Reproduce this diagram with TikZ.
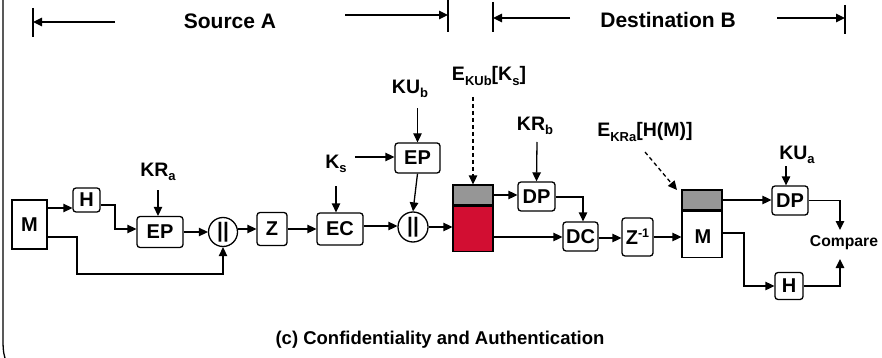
\documentclass[tikz,border=0pt]{standalone}
\usepackage{fontspec}
\setmainfont{Liberation Sans}
\usetikzlibrary{arrows.meta}
\definecolor{msgred}{RGB}{210,14,50}
\definecolor{hdrgray}{RGB}{150,150,150}
\newcommand{\lowsub}[1]{\raisebox{-4.5pt}{\fontsize{13}{13}\selectfont #1}}
\newcommand{\highsup}[1]{\raisebox{7pt}{\fontsize{12.5}{12.5}\selectfont #1}}
\tikzset{
  conn/.style={line width=1.3pt, -{Triangle[length=9pt,width=8.5pt]}},
  dconn/.style={conn, dashed, dash pattern=on 4pt off 3pt},
  plain/.style={line width=1.3pt},
  blk/.style={draw, rounded corners=3pt, line width=1.3pt, inner sep=0pt,
    font=\fontsize{20}{20}\selectfont\bfseries},
  sqr/.style={draw, line width=1.3pt, inner sep=0pt,
    font=\fontsize{20}{20}\selectfont\bfseries},
  cat/.style={draw, circle, line width=1.3pt, minimum size=29pt, inner sep=0pt,
    font=\fontsize{21}{21}\selectfont\bfseries},
  lbl/.style={inner sep=0pt, font=\fontsize{19.5}{19.5}\selectfont\bfseries},
  hdr/.style={inner sep=0pt, font=\fontsize{21}{21}\selectfont\bfseries},
}
\begin{document}
\begin{tikzpicture}[x=1pt,y=-1pt]
\useasboundingbox (0,0) rectangle (882,358);
\clip (0,0) rectangle (882,358);

% frame edge on the left
\draw[plain] (3,-3) -- (3,340) .. controls (3,352) and (4,356) .. (7,364);

% ---- header: Source A / Destination B ----
\node[hdr] (srcA) at (230,21) {Source A};
\node[hdr] (dstB) at (668,20) {Destination B};
\coordinate (saL) at (33,22);   \coordinate (saLs) at (115,22);
\coordinate (saR) at (448,15);  \coordinate (saRs) at (345,15);
\coordinate (dbL) at (493,18);  \coordinate (dbLs) at (570,18);
\coordinate (dbR) at (845,18);  \coordinate (dbRs) at (777,18);
\draw[plain] (33,8) -- (33,37);
\draw[plain] (448,0) -- (448,32);
\draw[plain] (493,2) -- (493,32);
\draw[plain] (845,5) -- (845,34);
\draw[conn] (saLs) -- (saL);
\draw[conn] (saRs) -- (saR);
\draw[conn] (dbLs) -- (dbL);
\draw[conn] (dbRs) -- (dbR);

% ---- source side ----
\node[sqr, minimum width=35pt, minimum height=49pt] (m1) at (29.5,224.5) {M};
\node[blk, minimum width=27pt, minimum height=24pt] (h1) at (86.5,200) {H};
\node[blk, minimum width=46pt, minimum height=31pt] (ep1) at (160,232) {EP};
\node[lbl] (kra) at (158,172) {KR\lowsub{a}};
\node[cat] (cat1) at (223,232) {||};
\node[blk, minimum width=30pt, minimum height=33pt] (z) at (272,229) {Z};
\node[blk, minimum width=46pt, minimum height=32pt] (ec) at (340,229) {EC};
\node[lbl] (ks) at (336,164) {K\lowsub{s}};
\node[blk, minimum width=45pt, minimum height=30pt] (ep2) at (417.5,158) {EP};
\node[lbl] (kub) at (410,89) {KU\lowsub{b}};
\node[cat, minimum size=30pt] (cat2) at (413,227) {||};

% encrypted message: session key header over ciphertext
\node[draw, line width=1.3pt, fill=hdrgray, minimum width=40pt, minimum height=20pt,
  inner sep=0pt] (ekey) at (473,195) {};
\node[draw, line width=1.3pt, fill=msgred, minimum width=40pt, minimum height=45pt,
  inner sep=0pt, anchor=north] (ctext) at (ekey.south) {};
\node[lbl] (ekub) at (489,76) {E\lowsub{KUb}[K\lowsub{s}]};

% ---- destination side ----
\node[blk, minimum width=37pt, minimum height=29pt] (dp1) at (536.5,196.5) {DP};
\node[lbl] (krb) at (535,126) {KR\lowsub{b}};
\node[blk, minimum width=35pt, minimum height=29pt] (dc) at (580.5,236.5) {DC};
\node[blk, minimum width=31pt, minimum height=38pt] (zi) at (637.5,237) {Z\highsup{-1}};
\node[draw, line width=1.3pt, fill=hdrgray, minimum width=40pt, minimum height=20pt,
  inner sep=0pt] (sig) at (702,200) {};
\node[sqr, minimum width=40pt, minimum height=46pt, anchor=north] (m2) at (sig.south) {};
\node[inner sep=0pt, font=\fontsize{20}{20}\selectfont\bfseries] (m2t) at (703,237) {M};
\node[lbl] (ekra) at (645,132) {E\lowsub{KRa}[H(M)]};
\node[blk, minimum width=36pt, minimum height=29pt] (dp2) at (790,200.5) {DP};
\node[lbl] (kua) at (797,155) {KU\lowsub{a}};
\node[blk, minimum width=28pt, minimum height=27pt] (h2) at (789,286) {H};
\node[inner sep=0pt, font=\fontsize{15.7}{15.7}\selectfont\bfseries] (cmp) at (844,243) {Compare};
\coordinate (cmpT) at (840,230);
\coordinate (cmpB) at (840,259);

% ---- caption ----
\node[inner sep=0pt, font=\fontsize{18.5}{18.5}\selectfont\bfseries] (cap) at (440,340)
  {(c) Confidentiality and Authentication};

% ---- connectors, source ----
\draw[conn] (m1.east |- 0,208) -- (h1.west |- 0,208);
\draw[conn] (h1.east |- 0,205) -- (115,205) |- (ep1.west |- 0,229);
\draw[conn] (kra.south |- 0,190) -- (ep1.north -| kra.south);
\draw[conn] (ep1.east) -- (cat1.west);
\draw[conn] ([yshift=-12.5pt]m1.east) -- (77,237) -- (77,274) -| (cat1.south);
\draw[conn] (cat1.east |- 0,229) -- (z.west);
\draw[conn] (z.east) -- (ec.west);
\draw[conn] (ks.south |- 0,186) -- (ec.north -| ks.south);
\draw[conn] (ks.east |- 0,157) ++(8,0) -- (ep2.west |- 0,157);
\draw[conn] (kub.south -| ep2.north) ++(0,10) -- (ep2.north);
\draw[conn] (ep2.south) -- (cat2.north);
\draw[conn] (ec.east |- 0,226) -- (cat2.west |- 0,226);
\draw[conn] (cat2.east) -- (ctext.west |- cat2.east);
\draw[dconn] (473,97) -- (ekey.north);

% ---- connectors, destination ----
\draw[conn] (ekey.east) -- (dp1.west |- ekey.east);
\draw[conn] (537,142) -- (dp1.north);
\draw[conn] (ctext.east |- 0,237) -- (dc.west |- 0,237);
\draw[conn] (dp1.east |- 0,197) -| (583,0 |- dc.north);
\draw[conn] (dc.east |- 0,238) -- (zi.west |- 0,238);
\draw[conn] (zi.east |- 0,237) -- (m2.west |- 0,237);
\draw[dconn] (645,152) -- (677,190);
\draw[conn] (sig.east) -- (dp2.west |- sig.east);
\draw[conn] (786,166) -- (dp2.north -| 786,0);
\draw[conn] (dp2.east) -| (cmpT);
\draw[conn] (m2.east |- 0,233) -- (744,233) |- (h2.west);
\draw[conn] (h2.east) -| (cmpB);
\end{tikzpicture}
\end{document}
